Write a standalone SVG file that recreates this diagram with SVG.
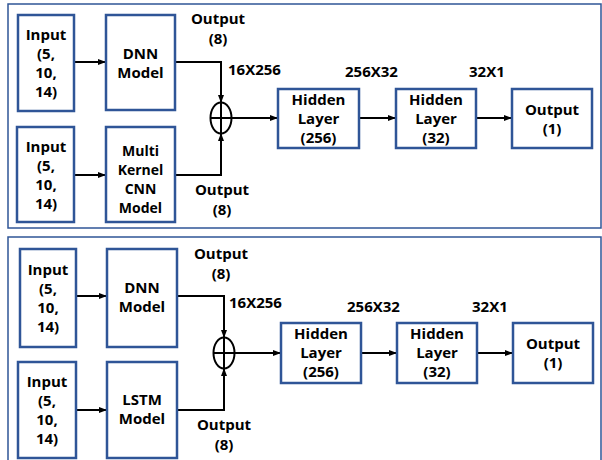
<svg xmlns="http://www.w3.org/2000/svg" width="602" height="460" viewBox="0 0 602 460">
<style>
.panel{fill:none;stroke:#2f5597;stroke-width:1.5}
.box{fill:#fff;stroke:#2f5597;stroke-width:2.5}
.t{font-family:"Open Sans","Noto Sans",sans-serif;font-weight:bold;font-size:15px;fill:#000;text-anchor:middle}
.l{font-family:"Open Sans","Noto Sans",sans-serif;font-weight:bold;font-size:15px;fill:#000}
.s{font-size:14px}
.c{fill:none;stroke:#000;stroke-width:2}
</style>
<defs>
<marker id="a" markerWidth="8" markerHeight="8" refX="7" refY="4" orient="auto" markerUnits="userSpaceOnUse">
<path d="M0,1 L8,4 L0,7 Z" fill="#000"/>
</marker>
</defs>
<rect width="602" height="460" fill="#fff"/>
<rect class="panel" x="8" y="4" width="593" height="224"/>
<rect class="panel" x="8" y="237" width="593" height="230"/>

<g id="connectors">
<path class="c" d="M74,62 H105" marker-end="url(#a)"/>
<path class="c" d="M74,175 H105" marker-end="url(#a)"/>
<path class="c" d="M175,62 H221 V102" marker-end="url(#a)"/>
<path class="c" d="M175,175 H221 V134" marker-end="url(#a)"/>
<path class="c" d="M232,118 H277" marker-end="url(#a)"/>
<path class="c" d="M359,118 H395" marker-end="url(#a)"/>
<path class="c" d="M476,118 H511" marker-end="url(#a)"/>

<path class="c" d="M76,296 H106" marker-end="url(#a)"/>
<path class="c" d="M76,410 H106" marker-end="url(#a)"/>
<path class="c" d="M177,296 H224 V337" marker-end="url(#a)"/>
<path class="c" d="M177,410 H224 V369" marker-end="url(#a)"/>
<path class="c" d="M235,353 H280" marker-end="url(#a)"/>
<path class="c" d="M361,353 H396" marker-end="url(#a)"/>
<path class="c" d="M477,353 H512" marker-end="url(#a)"/>
</g>

<g id="sum1"><ellipse cx="221" cy="118" rx="10.5" ry="15.5" fill="none" stroke="#000" stroke-width="2"/><path d="M210.5,118 H231.5 M221,102.5 V133.5" stroke="#000" stroke-width="2"/></g>
<g id="sum2"><ellipse cx="224" cy="353" rx="10.5" ry="15.5" fill="none" stroke="#000" stroke-width="2"/><path d="M213.5,353 H234.5 M224,337.5 V368.5" stroke="#000" stroke-width="2"/></g>

<g id="in1"><rect class="box" x="18" y="15" width="56" height="96"/>
<text class="t" x="46" y="40">Input</text><text class="t" x="46" y="59">(5,</text><text class="t" x="46" y="78">10,</text><text class="t" x="46" y="97">14)</text></g>
<g id="dnn1"><rect class="box" x="106" y="15" width="69" height="95"/>
<text class="t" x="140.5" y="59">DNN</text><text class="t" x="140.5" y="78">Model</text></g>
<g id="in2"><rect class="box" x="17" y="127" width="57" height="95"/>
<text class="t" x="46" y="152">Input</text><text class="t" x="46" y="171">(5,</text><text class="t" x="46" y="190">10,</text><text class="t" x="46" y="209">14)</text></g>
<g id="cnn"><rect class="box" x="106" y="127" width="69" height="95"/>
<text class="t s" x="140.5" y="156">Multi</text><text class="t s" x="140.5" y="175">Kernel</text><text class="t s" x="140.5" y="194">CNN</text><text class="t s" x="140.5" y="213">Model</text></g>
<g id="h1a"><rect class="box" x="278" y="89" width="81" height="59"/>
<text class="t" x="318.5" y="105">Hidden</text><text class="t" x="318.5" y="124">Layer</text><text class="t" x="318.5" y="143">(256)</text></g>
<g id="h2a"><rect class="box" x="396" y="89" width="80" height="59"/>
<text class="t" x="436" y="105">Hidden</text><text class="t" x="436" y="124">Layer</text><text class="t" x="436" y="143">(32)</text></g>
<g id="outa"><rect class="box" x="512" y="89" width="80" height="59"/>
<text class="t" x="552" y="115">Output</text><text class="t" x="552" y="134">(1)</text></g>

<g id="labels1">
<text class="t" x="218" y="24">Output</text><text class="t" x="218" y="44">(8)</text>
<text class="t" x="222" y="195">Output</text><text class="t" x="222" y="215">(8)</text>
<text class="l" x="228" y="75">16X256</text>
<text class="l" x="345" y="77">256X32</text>
<text class="l" x="469" y="77">32X1</text>
</g>

<g id="in3"><rect class="box" x="20" y="249" width="56" height="98"/>
<text class="t" x="48" y="275">Input</text><text class="t" x="48" y="294">(5,</text><text class="t" x="48" y="313">10,</text><text class="t" x="48" y="332">14)</text></g>
<g id="dnn2"><rect class="box" x="107" y="249" width="70" height="98"/>
<text class="t" x="142" y="293">DNN</text><text class="t" x="142" y="312">Model</text></g>
<g id="in4"><rect class="box" x="18" y="362" width="58" height="96"/>
<text class="t" x="47" y="387">Input</text><text class="t" x="47" y="406">(5,</text><text class="t" x="47" y="425">10,</text><text class="t" x="47" y="444">14)</text></g>
<g id="lstm"><rect class="box" x="107" y="362" width="70" height="96"/>
<text class="t" x="142" y="405">LSTM</text><text class="t" x="142" y="424">Model</text></g>
<g id="h1b"><rect class="box" x="281" y="323" width="80" height="60"/>
<text class="t" x="321" y="339">Hidden</text><text class="t" x="321" y="358">Layer</text><text class="t" x="321" y="377">(256)</text></g>
<g id="h2b"><rect class="box" x="397" y="323" width="80" height="60"/>
<text class="t" x="437" y="339">Hidden</text><text class="t" x="437" y="358">Layer</text><text class="t" x="437" y="377">(32)</text></g>
<g id="outb"><rect class="box" x="513" y="323" width="80" height="60"/>
<text class="t" x="553" y="349">Output</text><text class="t" x="553" y="368">(1)</text></g>

<g id="labels2">
<text class="t" x="221" y="259">Output</text><text class="t" x="221" y="279">(8)</text>
<text class="t" x="224" y="430">Output</text><text class="t" x="224" y="450">(8)</text>
<text class="l" x="229" y="308">16X256</text>
<text class="l" x="347" y="312">256X32</text>
<text class="l" x="472" y="312">32X1</text>
</g>
</svg>
